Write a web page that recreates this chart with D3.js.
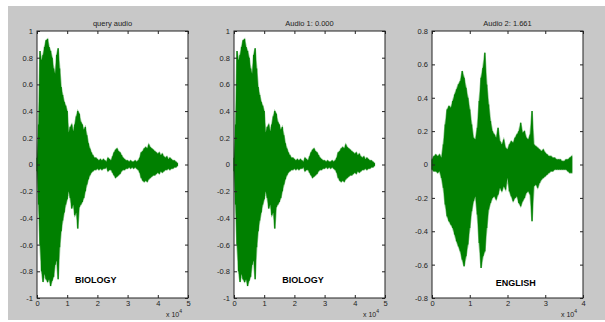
<!DOCTYPE html>
<html>
<head>
<meta charset="utf-8">
<script src="https://cdn.jsdelivr.net/npm/d3@7"></script>
<style>
	html, body { margin: 0; padding: 0; background: #fff; }
	svg { display: block; font-family: "Liberation Sans", Arial, sans-serif; }
</style>
</head>
<body>
<svg id="chart" width="605" height="322"></svg>
<script>
// envelope of each waveform, one value every 500 samples
const binSize = 500;

const queryUpper = [
	0.05, 0.30, 0.85, 0.78, 0.82, 0.88, 0.93, 0.94, 0.88, 0.85,
	0.80, 0.72, 0.68, 0.82, 0.87, 0.72, 0.58, 0.52, 0.47, 0.44,
	0.40, 0.24, 0.28, 0.30, 0.25, 0.30, 0.36, 0.40, 0.38, 0.32,
	0.30, 0.26, 0.28, 0.22, 0.16, 0.12, 0.09, 0.07, 0.05, 0.05,
	0.04, 0.03, 0.04, 0.03, 0.04, 0.03, 0.02, 0.05, 0.04, 0.03,
	0.06, 0.09, 0.11, 0.12, 0.10, 0.09, 0.07, 0.05, 0.04, 0.03,
	0.03, 0.02, 0.03, 0.02, 0.02, 0.03, 0.02, 0.03, 0.05, 0.09,
	0.10, 0.12, 0.13, 0.12, 0.15, 0.13, 0.12, 0.11, 0.10, 0.09,
	0.08, 0.09, 0.07, 0.08, 0.06, 0.05, 0.06, 0.04, 0.05, 0.04,
	0.03, 0.03, 0.02, 0.01
];
const queryLower = [
	-0.05, -0.30, -0.60, -0.80, -0.88, -0.82, -0.86, -0.88, -0.86, -0.91,
	-0.87, -0.84, -0.75, -0.72, -0.86, -0.62, -0.50, -0.42, -0.36, -0.30,
	-0.26, -0.20, -0.25, -0.33, -0.30, -0.38, -0.36, -0.48, -0.32, -0.30,
	-0.28, -0.25, -0.20, -0.15, -0.11, -0.08, -0.06, -0.05, -0.04, -0.04,
	-0.03, -0.04, -0.03, -0.04, -0.03, -0.03, -0.02, -0.05, -0.04, -0.04,
	-0.06, -0.08, -0.10, -0.09, -0.08, -0.07, -0.05, -0.04, -0.04, -0.03,
	-0.03, -0.02, -0.03, -0.02, -0.03, -0.02, -0.03, -0.04, -0.06, -0.10,
	-0.12, -0.13, -0.12, -0.13, -0.11, -0.10, -0.09, -0.08, -0.08, -0.07,
	-0.06, -0.07, -0.05, -0.06, -0.05, -0.04, -0.04, -0.03, -0.04, -0.03,
	-0.03, -0.02, -0.02, -0.01
];

const englishUpper = [
	0.03, 0.05, 0.06, 0.05, 0.06, 0.04, 0.12, 0.24, 0.33, 0.35,
	0.34, 0.38, 0.42, 0.45, 0.48, 0.50, 0.56, 0.52, 0.46, 0.40,
	0.33, 0.24, 0.16, 0.15, 0.22, 0.38, 0.52, 0.58, 0.67, 0.48,
	0.36, 0.26, 0.20, 0.18, 0.16, 0.22, 0.14, 0.12, 0.15, 0.10,
	0.09, 0.12, 0.14, 0.13, 0.16, 0.18, 0.20, 0.25, 0.19, 0.20,
	0.16, 0.15, 0.18, 0.32, 0.12, 0.11, 0.10, 0.09, 0.08, 0.09,
	0.07, 0.06, 0.05, 0.05, 0.04, 0.04, 0.03, 0.03, 0.03, 0.02,
	0.02, 0.03, 0.03, 0.04, 0.05
];
const englishLower = [
	-0.03, -0.04, -0.04, -0.05, -0.04, -0.08, -0.14, -0.24, -0.31, -0.34,
	-0.36, -0.38, -0.42, -0.46, -0.49, -0.52, -0.57, -0.61, -0.55, -0.48,
	-0.38, -0.28, -0.22, -0.19, -0.30, -0.47, -0.62, -0.55, -0.52, -0.38,
	-0.27, -0.23, -0.20, -0.19, -0.21, -0.18, -0.14, -0.16, -0.13, -0.15,
	-0.08, -0.16, -0.19, -0.22, -0.20, -0.19, -0.23, -0.25, -0.22, -0.20,
	-0.17, -0.16, -0.18, -0.34, -0.13, -0.12, -0.14, -0.11, -0.09, -0.08,
	-0.07, -0.06, -0.05, -0.04, -0.04, -0.03, -0.03, -0.03, -0.03, -0.03,
	-0.03, -0.03, -0.04, -0.05, -0.05
];

const titles = ['query audio', 'Audio 1: 0.000', 'Audio 2: 1.661'];
const labels = ['BIOLOGY', 'BIOLOGY', 'ENGLISH'];
const labelAt = [[12600, -0.89], [16000, -0.89], [16900, -0.73]];

const xTicksBio = [0, 10000, 20000, 30000, 40000, 50000];
const xTicksEng = [0, 10000, 20000, 30000, 40000];
const yTicksBio = [-1, -0.8, -0.6, -0.4, -0.2, 0, 0.2, 0.4, 0.6, 0.8, 1];
const yTicksEng = [-0.8, -0.6, -0.4, -0.2, 0, 0.2, 0.4, 0.6, 0.8];

const toPts = (hi, lo) => hi.map((v, i) => ({ s: i * binSize, hi: v, lo: lo[i] }));

const panels = [
	{ left: 37, data: toPts(queryUpper, queryLower), xMax: 50000, yMax: 1, xTicks: xTicksBio, yTicks: yTicksBio },
	{ left: 234, data: toPts(queryUpper, queryLower), xMax: 50000, yMax: 1, xTicks: xTicksBio, yTicks: yTicksBio },
	{ left: 432, data: toPts(englishUpper, englishLower), xMax: 40000, yMax: 0.8, xTicks: xTicksEng, yTicks: yTicksEng }
];

let svg = d3.select('#chart'),
	plotTop = 31,
	width = 151,
	height = 267,
	ink = '#222',
	green = '#008000';

svg.append('rect')
	.attr('x', 8).attr('y', 6)
	.attr('width', 597).attr('height', 314)
	.attr('fill', '#c8c8c8');

panels.forEach((p, k) => {
	let g = svg.append('g').attr('transform', `translate(${p.left}, ${plotTop})`);

	let x = d3.scaleLinear().domain([0, p.xMax]).range([0, width]),
		y = d3.scaleLinear().domain([-p.yMax, p.yMax]).range([height, 0]);

	g.append('rect')
		.attr('width', width).attr('height', height)
		.attr('fill', '#fff');

	let area = d3.area()
		.x(d => x(d.s))
		.y0(d => y(d.lo))
		.y1(d => y(d.hi));

	// pale fringe like the anti-aliased spikes of the original
	g.append('path')
		.datum(p.data)
		.attr('fill', green)
		.attr('stroke', 'rgba(0,128,0,0.4)')
		.attr('stroke-width', 1.6)
		.attr('stroke-linejoin', 'miter')
		.attr('d', area);

	// per-bin strokes keep the dense waveform look
	g.append('g')
		.selectAll('line')
		.data(p.data)
		.enter()
		.append('line')
		.attr('x1', d => x(d.s)).attr('x2', d => x(d.s))
		.attr('y1', d => y(d.lo)).attr('y2', d => y(d.hi))
		.attr('stroke', green)
		.attr('stroke-width', 1.2);

	let fmtY = d => String(Math.round(d * 10) / 10),
		fmtX = d => String(d / 10000);

	let styleAxis = sel => {
		sel.select('.domain').remove();
		sel.selectAll('line').attr('stroke', ink);
		sel.selectAll('text')
			.attr('fill', ink)
			.attr('font-size', '7.5px')
			.attr('font-family', '"Liberation Sans", Arial, sans-serif');
	};

	g.append('g')
		.call(d3.axisLeft(y).tickValues(p.yTicks).tickSize(-3).tickPadding(4).tickFormat(fmtY))
		.call(styleAxis);
	g.append('g')
		.attr('transform', `translate(${width}, 0)`)
		.call(d3.axisRight(y).tickValues(p.yTicks).tickSize(-3).tickFormat(''))
		.call(styleAxis);
	g.append('g')
		.attr('transform', `translate(0, ${height})`)
		.call(d3.axisBottom(x).tickValues(p.xTicks).tickSize(-3).tickPadding(3).tickFormat(fmtX))
		.call(styleAxis);
	g.append('g')
		.call(d3.axisTop(x).tickValues(p.xTicks).tickSize(-3).tickFormat(''))
		.call(styleAxis);

	g.append('rect')
		.attr('width', width).attr('height', height)
		.attr('fill', 'none')
		.attr('stroke', ink)
		.attr('stroke-width', 1);

	g.append('text')
		.attr('x', width / 2)
		.attr('y', -5)
		.attr('text-anchor', 'middle')
		.attr('fill', ink)
		.attr('font-size', '7.5px')
		.text(titles[k]);

	g.append('text')
		.attr('x', x(labelAt[k][0]))
		.attr('y', y(labelAt[k][1]))
		.attr('fill', '#000')
		.attr('font-size', '9px')
		.attr('font-weight', 'bold')
		.text(labels[k]);

	let mult = g.append('text')
		.attr('x', width - 6)
		.attr('y', height + 19)
		.attr('text-anchor', 'end')
		.attr('fill', ink)
		.attr('font-size', '7px');
	mult.append('tspan').text('x 10');
	mult.append('tspan').attr('dy', -4).attr('font-size', '5px').text('4');
});
</script>
</body>
</html>
